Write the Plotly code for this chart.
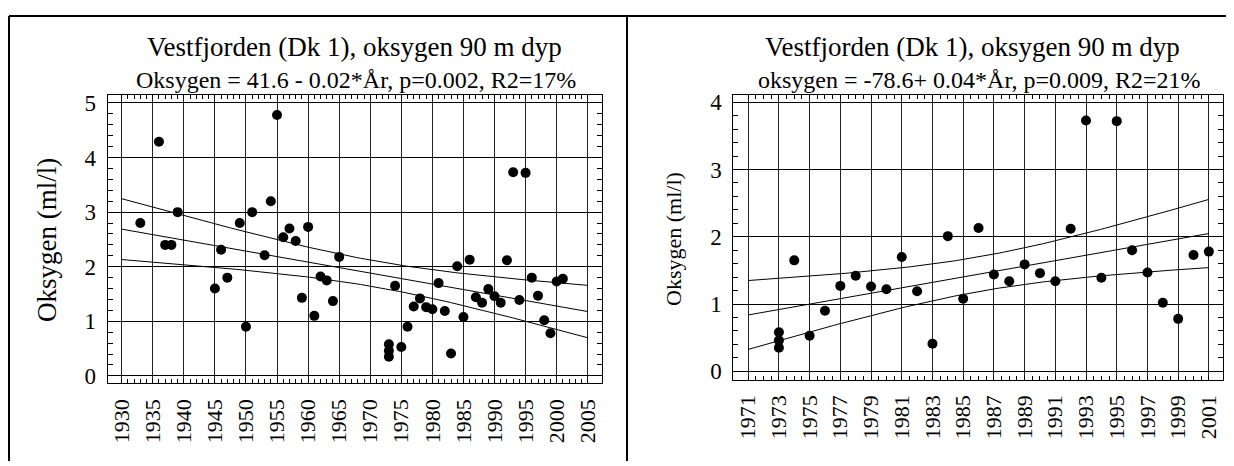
import numpy as np
import plotly.graph_objects as go

# ---------------- data ----------------
years = [1933, 1936, 1937, 1938, 1939, 1945, 1946, 1947, 1949, 1950, 1951, 1953,
         1954, 1955, 1956, 1957, 1958, 1959, 1960, 1961, 1962, 1963, 1964, 1965,
         1973, 1973, 1973, 1974, 1975, 1976, 1977, 1978, 1979, 1980, 1981, 1982,
         1983, 1984, 1985, 1986, 1987, 1988, 1989, 1990, 1991, 1992, 1993, 1994,
         1995, 1996, 1997, 1998, 1999, 2000, 2001]
oxygen = [2.80, 4.29, 2.40, 2.40, 3.00, 1.60, 2.31, 1.80, 2.80, 0.90, 3.00, 2.21,
          3.20, 4.78, 2.54, 2.70, 2.47, 1.43, 2.73, 1.10, 1.82, 1.75, 1.37, 2.18,
          0.58, 0.46, 0.35, 1.65, 0.53, 0.90, 1.27, 1.42, 1.26, 1.22, 1.70, 1.19,
          0.41, 2.01, 1.08, 2.13, 1.44, 1.34, 1.59, 1.46, 1.34, 2.12, 3.73, 1.39,
          3.72, 1.80, 1.47, 1.02, 0.78, 1.73, 1.78]

right_start_year = 1971

left_xticks = [1930, 1935, 1940, 1945, 1950, 1955, 1960, 1965, 1970, 1975,
               1980, 1985, 1990, 1995, 2000, 2005]
right_xticks = [1971, 1973, 1975, 1977, 1979, 1981, 1983, 1985, 1987, 1989,
                1991, 1993, 1995, 1997, 1999, 2001]
left_yticks = [0, 1, 2, 3, 4, 5]
right_yticks = [0, 1, 2, 3, 4]

left_fit_span = [1930, 2005]
right_fit_span = [1971, 2001]

title_text = "Vestfjorden (Dk 1), oksygen 90 m dyp"
left_subtitle = "Oksygen = 41.6 - 0.02*År, p=0.002, R2=17%"
right_subtitle = "oksygen = -78.6+ 0.04*År, p=0.009, R2=21%"
ytitle = "Oksygen (ml/l)"

# ---------------- helpers ----------------
PAGE_W, PAGE_H = 1234, 466
OFF = 8  # default page body margin
W, H = PAGE_W - OFF, PAGE_H - OFF
FONT = "Liberation Serif, Times New Roman, serif"


def t975(df):
    z = 1.959964
    return (z + (z**3 + z) / (4 * df) + (5 * z**5 + 16 * z**3 + 3 * z) / (96 * df**2)
            + (3 * z**7 + 19 * z**5 + 17 * z**3 - 15 * z) / (384 * df**3))


def fit_band(x, y, span):
    x = np.asarray(x, float)
    y = np.asarray(y, float)
    n = len(x)
    b, a = np.polyfit(x, y, 1)
    s = np.sqrt(np.sum((y - (a + b * x)) ** 2) / (n - 2))
    xbar = x.mean()
    sxx = np.sum((x - xbar) ** 2)
    xs = np.linspace(span[0], span[1], 120)
    yh = a + b * xs
    hw = t975(n - 2) * s * np.sqrt(1.0 / n + (xs - xbar) ** 2 / sxx)
    return xs, yh, yh - hw, yh + hw


def px_x(p):
    return (p - OFF) / W


def px_y(p):
    return 1 - (p - OFF) / H


yr = np.array(years)
ox = np.array(oxygen)
mask = yr >= right_start_year
yr_r, ox_r = yr[mask], ox[mask]

fig = go.Figure()

# left panel
xs, yh, lo, hi = fit_band(yr, ox, left_fit_span)
for yy in (hi, yh, lo):
    fig.add_trace(go.Scatter(x=xs, y=yy, mode="lines", line=dict(color="black", width=1),
                             xaxis="x", yaxis="y", hoverinfo="skip"))
fig.add_trace(go.Scatter(x=yr, y=ox, mode="markers",
                         marker=dict(color="black", size=10, line=dict(width=0)),
                         xaxis="x", yaxis="y"))

# right panel
xs, yh, lo, hi = fit_band(yr_r, ox_r, right_fit_span)
for yy in (hi, yh, lo):
    fig.add_trace(go.Scatter(x=xs, y=yy, mode="lines", line=dict(color="black", width=1),
                             xaxis="x2", yaxis="y2", hoverinfo="skip"))
fig.add_trace(go.Scatter(x=yr_r, y=ox_r, mode="markers",
                         marker=dict(color="black", size=10, line=dict(width=0)),
                         xaxis="x2", yaxis="y2"))


def xaxis(domain, rng, ticks, minor_vals, anchor):
    return dict(domain=domain, range=rng, anchor=anchor,
                tickmode="array", tickvals=ticks, ticktext=[str(t) for t in ticks],
                tickangle=-90, tickfont=dict(family=FONT, size=22, color="black"),
                ticks="inside", ticklen=4, tickcolor="black", ticklabelstandoff=6,
                showline=True, linecolor="black", linewidth=1, mirror="allticks",
                showgrid=True, gridcolor="#222", gridwidth=1, zeroline=False,
                minor=dict(tickmode="array", tickvals=minor_vals, ticks="inside",
                           ticklen=4, tickcolor="black", showgrid=False))


def yaxis(domain, rng, ticks, minor_vals, anchor):
    return dict(domain=domain, range=rng, anchor=anchor,
                tickmode="array", tickvals=ticks, ticktext=[str(t) for t in ticks],
                tickfont=dict(family=FONT, size=23, color="black"),
                ticks="inside", ticklen=5, tickcolor="black", ticklabelstandoff=6,
                showline=True, linecolor="black", linewidth=1, mirror="allticks",
                showgrid=True, gridcolor="black", gridwidth=1, zeroline=False,
                minor=dict(tickmode="array", tickvals=minor_vals, ticks="inside",
                           ticklen=5, tickcolor="black", showgrid=False))


l_minor_x = [v for v in np.arange(left_xticks[0], left_xticks[-1] + 0.01, 1.0)]
r_minor_x = [v for v in np.arange(right_xticks[0], right_xticks[-1] + 0.01, 0.5)]
l_minor_y = [round(v, 2) for v in np.arange(left_yticks[0], left_yticks[-1] + 0.01, 0.2)]
r_minor_y = [round(v, 2) for v in np.arange(right_yticks[0], right_yticks[-1] + 0.01, 0.2)]

L_x0, L_x1, L_y0, L_y1 = 107.7, 601.7, 92, 386.7
R_x0, R_x1, R_y0, R_y1 = 733.3, 1222.7, 92, 382.7

fig.update_layout(
    width=W, height=H, margin=dict(l=0, r=0, t=0, b=0),
    paper_bgcolor="white", plot_bgcolor="white", showlegend=False,
    font=dict(family=FONT, color="black"),
    xaxis=xaxis([px_x(L_x0), px_x(L_x1)], [1927.75, 2007.25], left_xticks, l_minor_x, "y"),
    yaxis=yaxis([px_y(L_y1), px_y(L_y0)], [-0.138, 5.143], left_yticks, l_minor_y, "x"),
    xaxis2=xaxis([px_x(R_x0), px_x(R_x1)], [1970.03, 2001.9], right_xticks, r_minor_x, "y2"),
    yaxis2=yaxis([px_y(R_y1), px_y(R_y0)], [-0.122, 4.106], right_yticks, r_minor_y, "x2"),
)

ann = []
ann.append(dict(text=title_text, x=px_x(354.5), y=px_y(43), xref="paper", yref="paper",
                showarrow=False, xanchor="center", yanchor="middle",
                font=dict(family=FONT, size=27, color="black")))
ann.append(dict(text=left_subtitle, x=px_x(355.5), y=px_y(77), xref="paper", yref="paper",
                showarrow=False, xanchor="center", yanchor="middle",
                font=dict(family=FONT, size=24, color="black")))
ann.append(dict(text=title_text, x=px_x(972), y=px_y(43), xref="paper", yref="paper",
                showarrow=False, xanchor="center", yanchor="middle",
                font=dict(family=FONT, size=27, color="black")))
ann.append(dict(text=right_subtitle, x=px_x(979), y=px_y(77), xref="paper", yref="paper",
                showarrow=False, xanchor="center", yanchor="middle",
                font=dict(family=FONT, size=24, color="black")))
ann.append(dict(text=ytitle, x=px_x(47), y=px_y(240), xref="paper", yref="paper",
                showarrow=False, textangle=-90, xanchor="center", yanchor="middle",
                font=dict(family=FONT, size=27, color="black")))
ann.append(dict(text=ytitle, x=px_x(674), y=px_y(239), xref="paper", yref="paper",
                showarrow=False, textangle=-90, xanchor="center", yanchor="middle",
                font=dict(family=FONT, size=22, color="black")))
fig.update_layout(annotations=ann)

# outer table borders
border = dict(color="black", width=2)
shapes = [
    dict(type="line", xref="paper", yref="paper", x0=px_x(9), x1=px_x(1232), y0=px_y(11), y1=px_y(11), line=border),
    dict(type="line", xref="paper", yref="paper", x0=px_x(9), x1=px_x(9), y0=px_y(11), y1=0, line=border),
    dict(type="line", xref="paper", yref="paper", x0=px_x(627), x1=px_x(627), y0=px_y(11), y1=0, line=border),
    dict(type="line", xref="paper", yref="paper", x0=px_x(1232), x1=px_x(1232), y0=px_y(11), y1=0, line=border),
]
fig.update_layout(shapes=shapes)

fig.write_html("out.html")
